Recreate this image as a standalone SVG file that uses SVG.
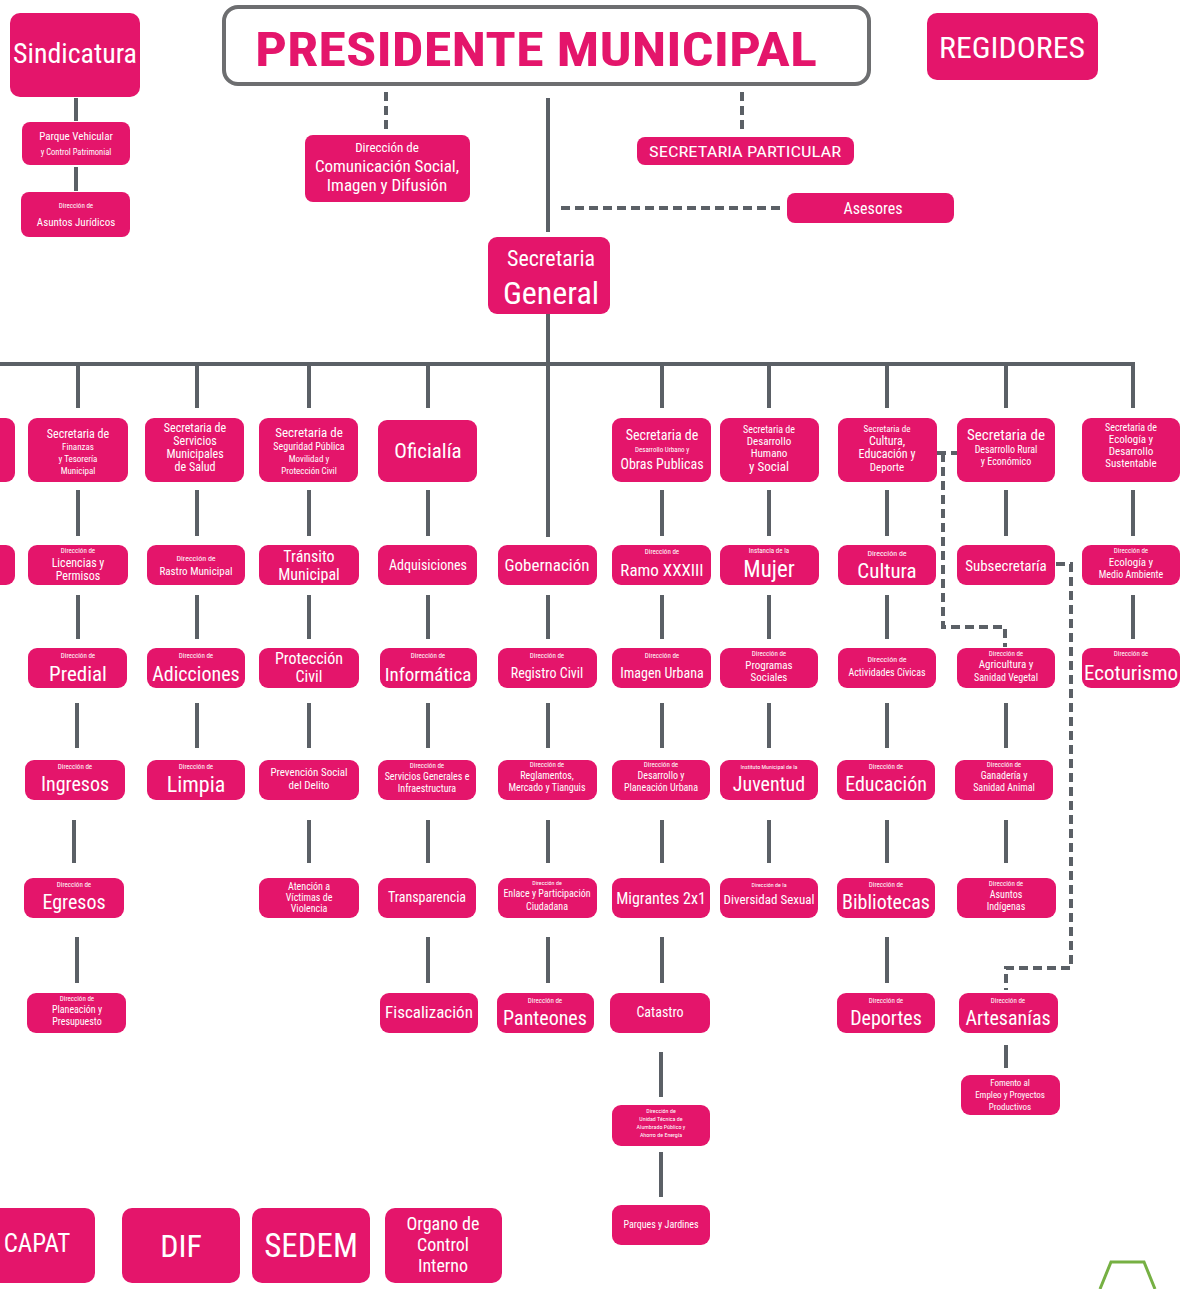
<svg xmlns="http://www.w3.org/2000/svg" width="1193" height="1289" viewBox="0 0 1193 1289">
<style>
rect.b{fill:#e4156b}
text{font-family:"Liberation Sans Narrow","Roboto Condensed","Liberation Sans",sans-serif;fill:#fff;text-anchor:middle}
.c line,.c path{stroke:#5b6066;stroke-width:4;fill:none}
.c .d{stroke-dasharray:9,5}
</style>
<rect width="1193" height="1289" fill="#fff"/>
<g class="c" id="connectors">
<line class="d" x1="386" y1="92" x2="386" y2="131"/>
<line class="d" x1="742" y1="92" x2="742" y2="131"/>
<line x1="548" y1="98" x2="548" y2="232"/>
<line class="d" x1="561" y1="208" x2="782" y2="208"/>
<line x1="76" y1="98" x2="76" y2="121"/>
<line x1="76" y1="167" x2="76" y2="191"/>
<line x1="548" y1="314" x2="548" y2="537"/>
<line x1="0" y1="364" x2="1135" y2="364"/>
<path d="M78 364V408M197 364V408M309 364V408M428 364V408M662 364V408M769 364V408M887 364V408M1006 364V408M1133 364V408"/>
<path d="M78 490V536M197 490V536M309 490V536M428 490V536M662 490V536M769 490V536M887 490V536M1006 490V536M1133 490V536"/>
<path d="M78 595V639M197 595V639M309 595V639M428 595V639M548 595V639M662 595V639M769 595V639M887 595V639M1133 595V639"/>
<path d="M77 703V748M197 703V748M309 703V748M428 703V748M548 703V748M662 703V748M769 703V748M887 703V748M1006 703V748"/>
<path d="M74 820V863M309 820V863M428 820V863M548 820V863M662 820V863M769 820V863M887 820V863M1006 820V863"/>
<path d="M77 937V983M428 937V983M548 937V983M662 937V983M887 937V983M1006 1045V1068M661 1052V1097M661 1152V1197"/>
<path class="d" d="M937 453H957M943 453V627H1005V647"/>
<path class="d" d="M1056 564H1071V968H1006V990"/>
</g>
<g id="presidente">
<rect x="224" y="7" width="645" height="77" rx="14" fill="#fff" stroke="#6d6e70" stroke-width="4"/>
<text x="536" y="66" font-size="48" font-weight="bold" style="fill:#e4156b" textLength="562" lengthAdjust="spacingAndGlyphs">PRESIDENTE MUNICIPAL</text>
</g>
<g id="sindicatura"><rect class="b" x="10" y="13" width="130" height="84" rx="10"/><text x="75" y="63" font-size="27" textLength="124" lengthAdjust="spacingAndGlyphs">Sindicatura</text></g>
<g id="parque"><rect class="b" x="22" y="122" width="108" height="43" rx="8"/><text x="76" y="140" font-size="11">Parque Vehicular</text><text x="76" y="155" font-size="8.5">y Control Patrimonial</text></g>
<g id="juridicos"><rect class="b" x="21" y="192" width="109" height="45" rx="8"/><text x="76" y="208" font-size="7">Dirección de</text><text x="76" y="226" font-size="11">Asuntos Jurídicos</text></g>
<g id="regidores"><rect class="b" x="927" y="13" width="171" height="67" rx="10"/><text x="1012" y="58" font-size="30" textLength="146" lengthAdjust="spacingAndGlyphs">REGIDORES</text></g>
<g id="comunicacion"><rect class="b" x="305" y="135" width="165" height="67" rx="8"/><text x="387" y="152" font-size="13">Dirección de</text><text x="387" y="172" font-size="17">Comunicación Social,</text><text x="387" y="191" font-size="17">Imagen y Difusión</text></g>
<g id="particular"><rect class="b" x="637" y="137" width="217" height="28" rx="8"/><text x="745" y="157" font-size="15" textLength="192" lengthAdjust="spacingAndGlyphs">SECRETARIA PARTICULAR</text></g>
<g id="asesores"><rect class="b" x="787" y="193" width="167" height="30" rx="8"/><text x="873" y="214" font-size="16">Asesores</text></g>
<g id="secgeneral"><rect class="b" x="488" y="237" width="122" height="77" rx="9"/><text x="551" y="266" font-size="22">Secretaria</text><text x="551" y="304" font-size="32">General</text></g>

<g id="cut1"><rect class="b" x="-85" y="418" width="100" height="64" rx="9"/></g>
<g id="finanzas"><rect class="b" x="28" y="418" width="100" height="64" rx="9"/><text x="78" y="438" font-size="12">Secretaria de</text><text x="78" y="450" font-size="9">Finanzas</text><text x="78" y="462" font-size="9">y Tesorería</text><text x="78" y="474" font-size="9">Municipal</text></g>
<g id="salud"><rect class="b" x="145" y="418" width="99" height="64" rx="9"/><text x="195" y="432" font-size="12">Secretaria de</text><text x="195" y="445" font-size="12">Servicios</text><text x="195" y="458" font-size="12">Municipales</text><text x="195" y="471" font-size="12">de Salud</text></g>
<g id="seguridad"><rect class="b" x="259" y="418" width="99" height="64" rx="9"/><text x="309" y="437" font-size="13">Secretaria de</text><text x="309" y="450" font-size="10">Seguridad Pública</text><text x="309" y="462" font-size="9">Movilidad y</text><text x="309" y="474" font-size="9">Protección Civil</text></g>
<g id="oficialia"><rect class="b" x="378" y="420" width="99" height="62" rx="9"/><text x="428" y="458" font-size="21">Oficialía</text></g>
<g id="obras"><rect class="b" x="612" y="418" width="99" height="64" rx="9"/><text x="662" y="440" font-size="14">Secretaria de</text><text x="662" y="452" font-size="7">Desarrollo Urbano y</text><text x="662" y="469" font-size="14">Obras Publicas</text></g>
<g id="humano"><rect class="b" x="720" y="418" width="99" height="64" rx="9"/><text x="769" y="433" font-size="10">Secretaria de</text><text x="769" y="445" font-size="11">Desarrollo</text><text x="769" y="457" font-size="11">Humano</text><text x="769" y="471" font-size="13">y Social</text></g>
<g id="culturasec"><rect class="b" x="838" y="418" width="99" height="64" rx="9"/><text x="887" y="432" font-size="9">Secretaria de</text><text x="887" y="445" font-size="12">Cultura,</text><text x="887" y="458" font-size="12">Educación y</text><text x="887" y="471" font-size="11">Deporte</text></g>
<g id="rural"><rect class="b" x="957" y="418" width="98" height="64" rx="9"/><text x="1006" y="440" font-size="15">Secretaria de</text><text x="1006" y="453" font-size="10">Desarrollo Rural</text><text x="1006" y="465" font-size="10">y Económico</text></g>
<g id="ecologiasec"><rect class="b" x="1082" y="418" width="98" height="64" rx="9"/><text x="1131" y="431" font-size="10">Secretaria de</text><text x="1131" y="443" font-size="11">Ecología y</text><text x="1131" y="455" font-size="11">Desarrollo</text><text x="1131" y="467" font-size="11">Sustentable</text></g>

<g id="cut2"><rect class="b" x="-85" y="545" width="100" height="40" rx="9"/></g>
<g id="licencias"><rect class="b" x="28" y="545" width="100" height="40" rx="9"/><text x="78" y="553" font-size="7">Dirección de</text><text x="78" y="567" font-size="12">Licencias y</text><text x="78" y="580" font-size="12">Permisos</text></g>
<g id="rastro"><rect class="b" x="147" y="545" width="98" height="40" rx="9"/><text x="196" y="561" font-size="8">Dirección de</text><text x="196" y="575" font-size="11">Rastro Municipal</text></g>
<g id="transito"><rect class="b" x="259" y="545" width="100" height="40" rx="9"/><text x="309" y="562" font-size="16">Tránsito</text><text x="309" y="580" font-size="16">Municipal</text></g>
<g id="adquisiciones"><rect class="b" x="378" y="545" width="99" height="40" rx="9"/><text x="428" y="570" font-size="14">Adquisiciones</text></g>
<g id="gobernacion"><rect class="b" x="498" y="545" width="99" height="40" rx="9"/><text x="547" y="571" font-size="17">Gobernación</text></g>
<g id="ramo"><rect class="b" x="612" y="545" width="99" height="40" rx="9"/><text x="662" y="554" font-size="7">Dirección de</text><text x="662" y="576" font-size="17">Ramo XXXIII</text></g>
<g id="mujer"><rect class="b" x="720" y="545" width="99" height="40" rx="9"/><text x="769" y="553" font-size="7">Instancia de la</text><text x="769" y="577" font-size="23">Mujer</text></g>
<g id="culturadir"><rect class="b" x="838" y="545" width="98" height="40" rx="9"/><text x="887" y="556" font-size="8">Dirección de</text><text x="887" y="578" font-size="21">Cultura</text></g>
<g id="subsecretaria"><rect class="b" x="957" y="545" width="98" height="40" rx="9"/><text x="1006" y="571" font-size="15">Subsecretaría</text></g>
<g id="ecologiadir"><rect class="b" x="1082" y="545" width="98" height="40" rx="9"/><text x="1131" y="553" font-size="7">Dirección de</text><text x="1131" y="566" font-size="11">Ecología y</text><text x="1131" y="578" font-size="10">Medio Ambiente</text></g>

<g id="predial"><rect class="b" x="28" y="648" width="99" height="40" rx="9"/><text x="78" y="658" font-size="7">Dirección de</text><text x="78" y="681" font-size="21">Predial</text></g>
<g id="adicciones"><rect class="b" x="147" y="648" width="98" height="40" rx="9"/><text x="196" y="658" font-size="7">Dirección de</text><text x="196" y="681" font-size="20">Adicciones</text></g>
<g id="proteccion"><rect class="b" x="259" y="648" width="100" height="40" rx="9"/><text x="309" y="664" font-size="16">Protección</text><text x="309" y="682" font-size="16">Civil</text></g>
<g id="informatica"><rect class="b" x="380" y="648" width="97" height="40" rx="9"/><text x="428" y="658" font-size="7">Dirección de</text><text x="428" y="681" font-size="19">Informática</text></g>
<g id="registro"><rect class="b" x="498" y="648" width="99" height="40" rx="9"/><text x="547" y="658" font-size="7">Dirección de</text><text x="547" y="678" font-size="14">Registro Civil</text></g>
<g id="imagenurbana"><rect class="b" x="612" y="648" width="99" height="40" rx="9"/><text x="662" y="658" font-size="7">Dirección de</text><text x="662" y="678" font-size="14">Imagen Urbana</text></g>
<g id="programas"><rect class="b" x="720" y="648" width="98" height="40" rx="9"/><text x="769" y="656" font-size="7">Dirección de</text><text x="769" y="669" font-size="11">Programas</text><text x="769" y="681" font-size="11">Sociales</text></g>
<g id="civicas"><rect class="b" x="838" y="648" width="98" height="40" rx="9"/><text x="887" y="662" font-size="8">Dirección de</text><text x="887" y="676" font-size="10">Actividades Cívicas</text></g>
<g id="agricultura"><rect class="b" x="957" y="648" width="98" height="40" rx="9"/><text x="1006" y="656" font-size="7">Dirección de</text><text x="1006" y="668" font-size="11">Agricultura y</text><text x="1006" y="681" font-size="10">Sanidad Vegetal</text></g>
<g id="ecoturismo"><rect class="b" x="1082" y="648" width="98" height="40" rx="9"/><text x="1131" y="656" font-size="7">Dirección de</text><text x="1131" y="680" font-size="21">Ecoturismo</text></g>

<g id="ingresos"><rect class="b" x="25" y="760" width="100" height="40" rx="9"/><text x="75" y="769" font-size="7">Dirección de</text><text x="75" y="791" font-size="20">Ingresos</text></g>
<g id="limpia"><rect class="b" x="147" y="760" width="98" height="40" rx="9"/><text x="196" y="769" font-size="7">Dirección de</text><text x="196" y="792" font-size="22">Limpia</text></g>
<g id="prevencion"><rect class="b" x="259" y="760" width="100" height="40" rx="9"/><text x="309" y="776" font-size="11">Prevención Social</text><text x="309" y="789" font-size="11">del Delito</text></g>
<g id="servicios"><rect class="b" x="378" y="760" width="98" height="40" rx="9"/><text x="427" y="768" font-size="7">Dirección de</text><text x="427" y="780" font-size="10">Servicios Generales e</text><text x="427" y="792" font-size="10">Infraestructura</text></g>
<g id="reglamentos"><rect class="b" x="498" y="760" width="99" height="40" rx="9"/><text x="547" y="767" font-size="7">Dirección de</text><text x="547" y="779" font-size="10">Reglamentos,</text><text x="547" y="791" font-size="10">Mercado y Tianguis</text></g>
<g id="planeacionurbana"><rect class="b" x="612" y="760" width="98" height="40" rx="9"/><text x="661" y="767" font-size="7">Dirección de</text><text x="661" y="779" font-size="10">Desarrollo y</text><text x="661" y="791" font-size="10">Planeación Urbana</text></g>
<g id="juventud"><rect class="b" x="720" y="760" width="98" height="40" rx="9"/><text x="769" y="769" font-size="6">Instituto Municipal de la</text><text x="769" y="791" font-size="20">Juventud</text></g>
<g id="educacion"><rect class="b" x="837" y="760" width="98" height="40" rx="9"/><text x="886" y="769" font-size="7">Dirección de</text><text x="886" y="791" font-size="20">Educación</text></g>
<g id="ganaderia"><rect class="b" x="955" y="760" width="98" height="40" rx="9"/><text x="1004" y="767" font-size="7">Dirección de</text><text x="1004" y="779" font-size="10">Ganadería y</text><text x="1004" y="791" font-size="10">Sanidad Animal</text></g>

<g id="egresos"><rect class="b" x="24" y="878" width="100" height="40" rx="9"/><text x="74" y="887" font-size="7">Dirección de</text><text x="74" y="909" font-size="20">Egresos</text></g>
<g id="victimas"><rect class="b" x="259" y="878" width="100" height="40" rx="9"/><text x="309" y="890" font-size="10">Atención a</text><text x="309" y="901" font-size="10">Víctimas de</text><text x="309" y="912" font-size="10">Violencia</text></g>
<g id="transparencia"><rect class="b" x="378" y="878" width="98" height="40" rx="9"/><text x="427" y="902" font-size="14">Transparencia</text></g>
<g id="enlace"><rect class="b" x="498" y="878" width="99" height="40" rx="9"/><text x="547" y="885" font-size="6">Dirección de</text><text x="547" y="897" font-size="10">Enlace y Participación</text><text x="547" y="910" font-size="10">Ciudadana</text></g>
<g id="migrantes"><rect class="b" x="612" y="878" width="98" height="40" rx="9"/><text x="661" y="904" font-size="16">Migrantes 2x1</text></g>
<g id="diversidad"><rect class="b" x="720" y="878" width="98" height="40" rx="9"/><text x="769" y="887" font-size="6">Dirección de la</text><text x="769" y="904" font-size="13">Diversidad Sexual</text></g>
<g id="bibliotecas"><rect class="b" x="837" y="878" width="98" height="40" rx="9"/><text x="886" y="887" font-size="7">Dirección de</text><text x="886" y="909" font-size="20">Bibliotecas</text></g>
<g id="indigenas"><rect class="b" x="957" y="878" width="99" height="40" rx="9"/><text x="1006" y="886" font-size="7">Dirección de</text><text x="1006" y="898" font-size="10">Asuntos</text><text x="1006" y="910" font-size="10">Indígenas</text></g>

<g id="presupuesto"><rect class="b" x="27" y="993" width="99" height="40" rx="9"/><text x="77" y="1001" font-size="7">Dirección de</text><text x="77" y="1013" font-size="10">Planeación y</text><text x="77" y="1025" font-size="10">Presupuesto</text></g>
<g id="fiscalizacion"><rect class="b" x="380" y="993" width="98" height="40" rx="9"/><text x="429" y="1018" font-size="17">Fiscalización</text></g>
<g id="panteones"><rect class="b" x="497" y="993" width="97" height="40" rx="9"/><text x="545" y="1003" font-size="7">Dirección de</text><text x="545" y="1025" font-size="20">Panteones</text></g>
<g id="catastro"><rect class="b" x="610" y="993" width="100" height="40" rx="9"/><text x="660" y="1017" font-size="14">Catastro</text></g>
<g id="deportes"><rect class="b" x="837" y="993" width="98" height="40" rx="9"/><text x="886" y="1003" font-size="7">Dirección de</text><text x="886" y="1025" font-size="20">Deportes</text></g>
<g id="artesanias"><rect class="b" x="959" y="993" width="99" height="40" rx="9"/><text x="1008" y="1003" font-size="7">Dirección de</text><text x="1008" y="1025" font-size="20">Artesanías</text></g>

<g id="fomento"><rect class="b" x="961" y="1075" width="99" height="40" rx="9"/><text x="1010" y="1086" font-size="9">Fomento al</text><text x="1010" y="1098" font-size="9">Empleo y Proyectos</text><text x="1010" y="1110" font-size="9">Productivos</text></g>
<g id="alumbrado"><rect class="b" x="612" y="1105" width="98" height="41" rx="9"/><text x="661" y="1113" font-size="6">Dirección de</text><text x="661" y="1121" font-size="6">Unidad Técnica de</text><text x="661" y="1129" font-size="6">Alumbrado Público y</text><text x="661" y="1137" font-size="6">Ahorro de Energía</text></g>
<g id="parques"><rect class="b" x="612" y="1205" width="98" height="40" rx="9"/><text x="661" y="1228" font-size="10">Parques y Jardines</text></g>

<g id="capat"><rect class="b" x="-12" y="1208" width="107" height="75" rx="10"/><text x="37" y="1252" font-size="25">CAPAT</text></g>
<g id="dif"><rect class="b" x="122" y="1208" width="118" height="75" rx="10"/><text x="181" y="1257" font-size="32">DIF</text></g>
<g id="sedem"><rect class="b" x="252" y="1208" width="118" height="75" rx="10"/><text x="311" y="1257" font-size="33">SEDEM</text></g>
<g id="organo"><rect class="b" x="385" y="1208" width="117" height="75" rx="10"/><text x="443" y="1230" font-size="18">Organo de</text><text x="443" y="1251" font-size="18">Control</text><text x="443" y="1272" font-size="18">Interno</text></g>
<path d="M1100 1289L1111 1262H1144L1155 1289" fill="none" stroke="#76b043" stroke-width="3"/>
</svg>
